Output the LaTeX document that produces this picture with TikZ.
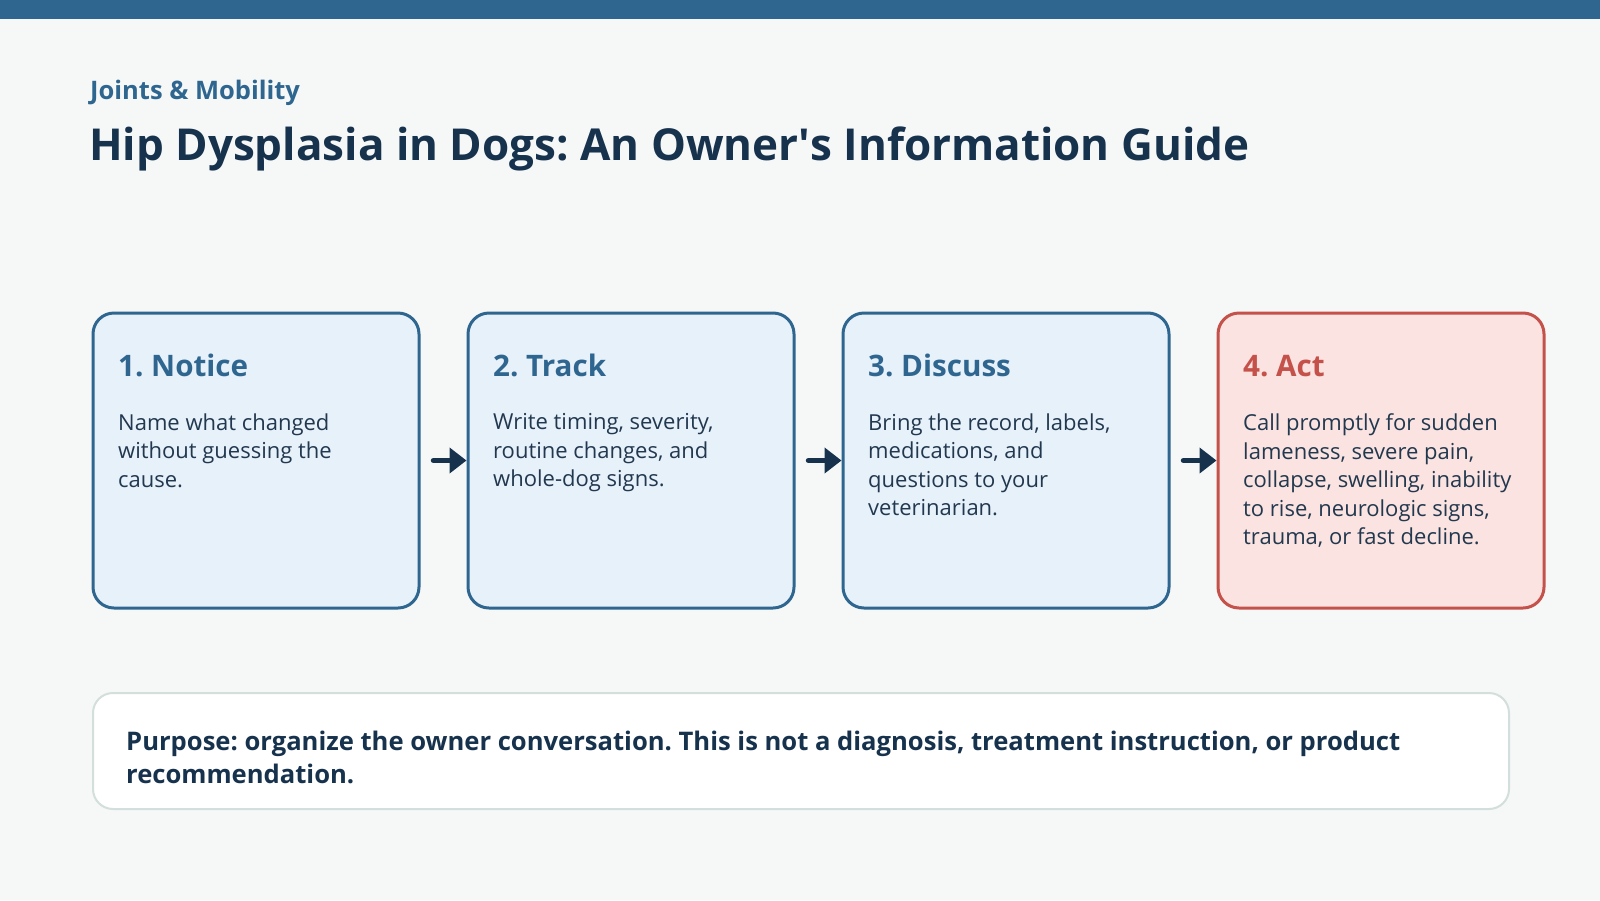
\documentclass[tikz,border=0pt]{standalone}
\usepackage{fontspec}
\setmainfont{Open Sans}
\usetikzlibrary{arrows.meta,positioning}

\definecolor{barblue}{HTML}{2F6690}
\definecolor{pagebg}{HTML}{F6F8F8}
\definecolor{ink}{HTML}{17324D}
\definecolor{bodyink}{HTML}{22384F}
\definecolor{boxfill}{HTML}{E7F1FA}
\definecolor{actred}{HTML}{C4514A}
\definecolor{actfill}{HTML}{FAE3E0}
\definecolor{noteline}{HTML}{D3DFDC}

\tikzset{
  stepbox/.style={draw=barblue, fill=boxfill, line width=3pt, rounded corners=21pt,
    minimum width=326pt, minimum height=295pt, inner sep=0pt, anchor=north west},
  actbox/.style={stepbox, draw=actred, fill=actfill},
  steptitle/.style={anchor=base west, inner sep=0pt, text=barblue,
    font=\fontsize{29.6}{34}\selectfont\bfseries},
  stepbody/.style={anchor=north west, inner sep=0pt, align=left, text=bodyink,
    font=\fontsize{22}{28.5}\selectfont},
  flow/.style={->, ink, line width=5.5pt, shorten <=13pt}
}
\frenchspacing

\begin{document}
\begin{tikzpicture}[x=1pt, y=-1pt, line join=round, line cap=round,
    >={Triangle[length=17pt,width=25pt]}]
  \useasboundingbox (0,0) rectangle (1600,900);
  \fill[pagebg] (0,0) rectangle (1600,900);
  \fill[barblue] (0,0) rectangle (1600,19);

  % heading
  \node[anchor=base west, inner sep=0pt, text=barblue, font=\fontsize{25.5}{30}\selectfont\bfseries]
    (kicker) at (90,99) {Joints \& Mobility};
  \node[anchor=base west, inner sep=0pt, text=ink, font=\fontsize{44}{52}\selectfont\bfseries]
    (headline) at (89,160) {Hip Dysplasia in Dogs: An Owner\textquotesingle s Information Guide};

  % the four steps
  \node[stepbox] (notice) at (91.5,311.5) {};
  \node[stepbox] (track) at (466.5,311.5) {};
  \node[stepbox] (discuss) at (841.5,311.5) {};
  \node[actbox] (act) at (1216.5,311.5) {};

  \node[steptitle] (noticeT) at (118,376) {1. Notice};
  \node[steptitle] (trackT) at (493,376) {2. Track};
  \node[steptitle] (discussT) at (868,376) {3. Discuss};
  \node[steptitle, text=actred] (actT) at (1243,376) {4. Act};

  \node[stepbody] (noticeB) at (118,413.5) {Name what changed\\without guessing the\\cause.};
  \node[stepbody] (trackB) at (493,413.5) {Write timing, severity,\\routine changes, and\\whole-dog signs.};
  \node[stepbody] (discussB) at (868,413.5) {Bring the record, labels,\\medications, and\\questions to your\\veterinarian.};
  \node[stepbody] (actB) at (1243,413.5) {Call promptly for sudden\\lameness, severe pain,\\collapse, swelling, inability\\to rise, neurologic signs,\\trauma, or fast decline.};

  \draw[flow] (notice.east) -- (track.west);
  \draw[flow] (track.east) -- (discuss.west);
  \draw[flow] (discuss.east) -- (act.west);

  % purpose note
  \node[draw=noteline, fill=white, line width=2pt, rounded corners=20pt, anchor=north west,
    minimum width=1416pt, minimum height=116pt, inner sep=0pt] (note) at (92,692) {};
  \node[anchor=north west, inner sep=0pt, align=left, text=ink,
    font=\fontsize{25.6}{33.5}\selectfont\bfseries] (noteT) at (126,730.5)
    {Purpose: organize the owner conversation. This is not a diagnosis, treatment instruction, or product\\recommendation.};
\end{tikzpicture}
\end{document}
